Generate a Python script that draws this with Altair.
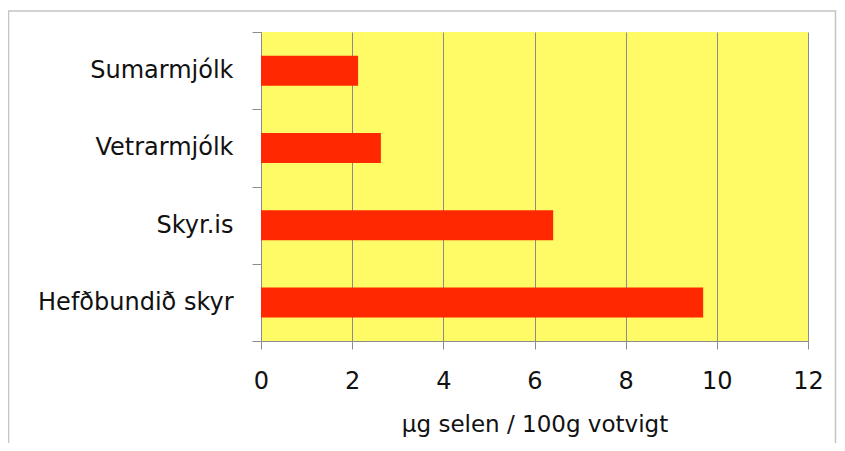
import altair as alt
import pandas as pd

categories = ["Sumarmjólk", "Vetrarmjólk", "Skyr.is", "Hefðbundið skyr"]
values = [2.13, 2.63, 6.41, 9.70]
x_ticks = [0, 2, 4, 6, 8, 10, 12]
x_title = "µg selen / 100g votvigt"

df = pd.DataFrame({"product": categories, "selen": values})

FONT = "DejaVu Sans"
GRAY = "#8c8c8c"

bars = alt.Chart(df).mark_bar(size=30, color="#FF2800").encode(
    x=alt.X(
        "selen:Q",
        scale=alt.Scale(domain=[0, 12], nice=False, zero=True),
        axis=alt.Axis(
            values=x_ticks,
            title=x_title,
            grid=True,
            gridColor=GRAY,
            gridWidth=1,
            domainColor=GRAY,
            tickColor=GRAY,
            tickSize=8,
            labelFont=FONT,
            labelFontSize=24,
            labelColor="#111111",
            labelPadding=20,
            titleFont=FONT,
            titleFontSize=23,
            titleFontWeight="normal",
            titleColor="#111111",
            titlePadding=20,
            labelFlush=False,
        ),
    ),
    y=alt.Y(
        "product:N",
        sort=categories,
        scale=alt.Scale(paddingInner=0, paddingOuter=0),
        axis=alt.Axis(
            title=None,
            tickBand="extent",
            grid=False,
            domainColor=GRAY,
            tickColor=GRAY,
            tickSize=9,
            labelFont=FONT,
            labelFontSize=24,
            labelColor="#111111",
            labelPadding=19,
            labelLimit=400,
        ),
    ),
)

frame = alt.Chart(pd.DataFrame({"f": [0]})).mark_rect(
    fill=None, stroke="#c4c4c4", strokeWidth=1.5
).encode(
    x=alt.value(-252.5),
    x2=alt.value(574.5),
    y=alt.value(-21),
    y2=alt.value(500),
)

chart = alt.layer(frame, bars).properties(
    width=547,
    height=309,
    autosize=alt.AutoSizeParams(type="none"),
    padding={"left": 253, "top": 24, "right": 29, "bottom": 102},
    background="white",
).configure_view(fill="#FFFB66", stroke=None)

chart.save("out.html", embed_options={"renderer": "svg", "actions": False})
